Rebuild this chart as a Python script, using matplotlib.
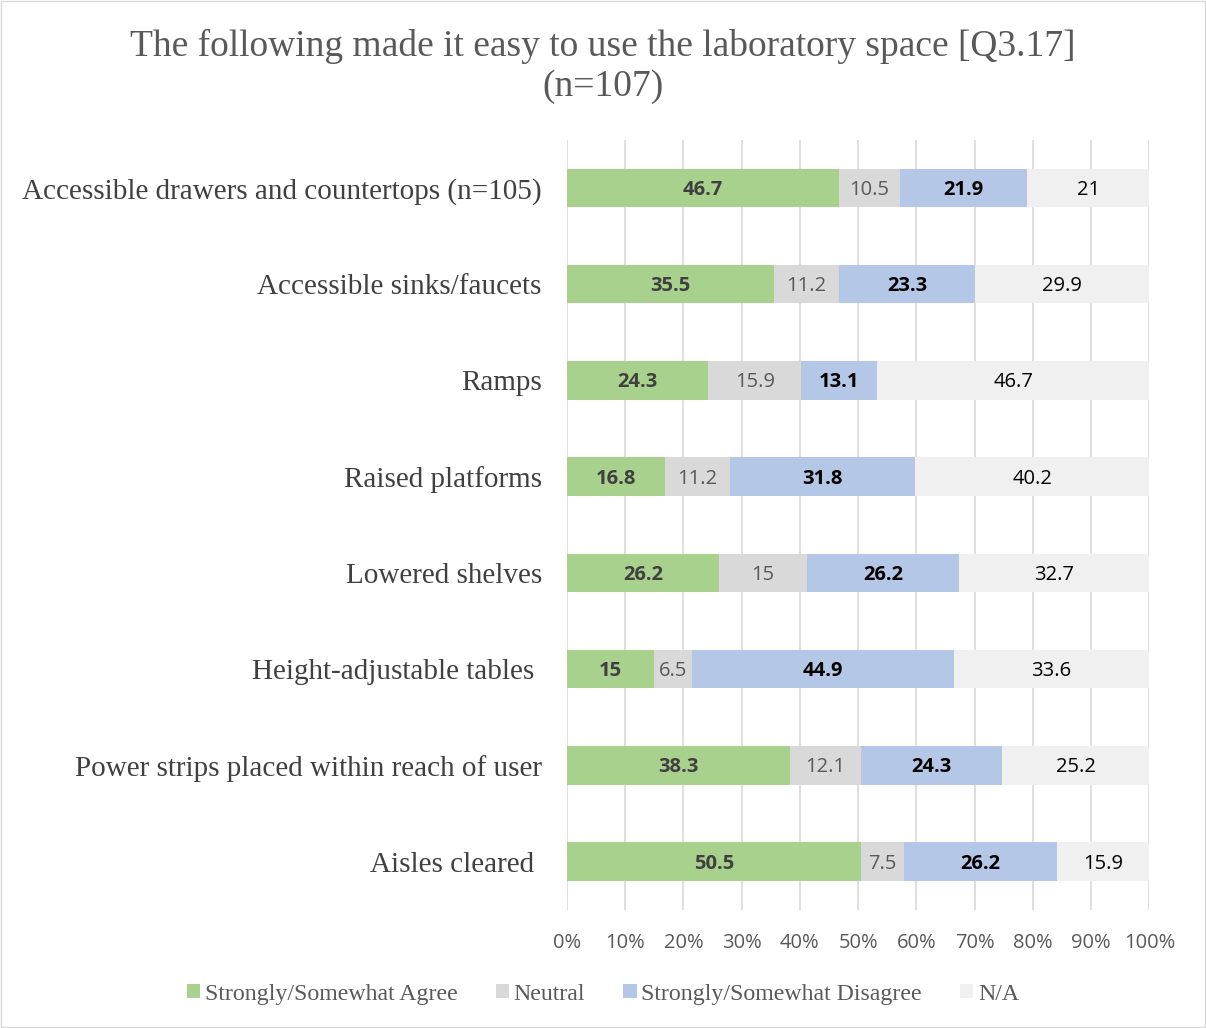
import numpy as np
import matplotlib.pyplot as plt
from matplotlib.patches import Patch

categories = [
    "Accessible drawers and countertops (n=105)",
    "Accessible sinks/faucets",
    "Ramps",
    "Raised platforms",
    "Lowered shelves",
    "Height-adjustable tables ",
    "Power strips placed within reach of user",
    "Aisles cleared ",
]
agree = [46.7, 35.5, 24.3, 16.8, 26.2, 15, 38.3, 50.5]
neutral = [10.5, 11.2, 15.9, 11.2, 15, 6.5, 12.1, 7.5]
disagree = [21.9, 23.3, 13.1, 31.8, 26.2, 44.9, 24.3, 26.2]
na = [21, 29.9, 46.7, 40.2, 32.7, 33.6, 25.2, 15.9]

series_names = ["Strongly/Somewhat Agree", "Neutral", "Strongly/Somewhat Disagree", "N/A"]
colors = ["#A9D18E", "#D9D9D9", "#B4C7E7", "#F0F0F0"]
label_styles = [("#404040", "bold"), ("#595959", "normal"), ("#000000", "bold"), ("#000000", "normal")]

serif = "Liberation Serif"
sans = "Open Sans"

fig = plt.figure(figsize=(12.06, 10.28), dpi=100)
ax = fig.add_axes([0.470, 0.115, 0.483, 0.749])

data = np.array([agree, neutral, disagree, na])
totals = data.sum(axis=0)
pct = data / totals * 100
y = np.arange(len(categories))

left = np.zeros(len(categories))
for i, name in enumerate(series_names):
    ax.barh(y, pct[i], left=left, height=0.4, color=colors[i], zorder=2)
    col, wt = label_styles[i]
    for j in range(len(categories)):
        ax.text(left[j] + pct[i][j] / 2, y[j] + 0.02, f"{data[i][j]:g}", ha="center", va="center",
                fontsize=14.5, color=col, fontweight=wt, family=sans, zorder=3)
    left += pct[i]

ax.set_xlim(0, 100)
ax.set_ylim(len(categories) - 0.5, -0.5)
ax.set_xticks(np.arange(0, 101, 10))
ax.set_xticklabels([f"{v}%" for v in range(0, 101, 10)], family=sans, fontsize=14.5, color="#595959")
ax.set_yticks(y)
ax.set_yticklabels(categories, family=serif, fontsize=21, color="#404040")
ax.tick_params(axis="both", length=0)
ax.tick_params(axis="x", pad=17)
ax.tick_params(axis="y", pad=18)
ax.grid(axis="x", color="#D9D9D9", linewidth=1.2, zorder=0)
for s in ax.spines.values():
    s.set_visible(False)

fig.suptitle("The following made it easy to use the laboratory space [Q3.17]\n(n=107)",
             y=0.972, family=serif, fontsize=27, color="#595959", linespacing=1.2)

handles = [Patch(facecolor=c, edgecolor="none") for c in colors]
fig.legend(handles, series_names, loc="center", bbox_to_anchor=(0.5, 0.033), ncol=4,
           frameon=False, prop={"family": serif, "size": 17.2}, handlelength=0.55,
           handleheight=0.55, handletextpad=0.2, columnspacing=1.6,
           labelcolor="#595959")

fig.patches.append(plt.Rectangle((0.001, 0.001), 0.998, 0.998, transform=fig.transFigure,
                                 fill=False, edgecolor="#D9D9D9", linewidth=1))

fig.savefig("out.png", dpi=100)
